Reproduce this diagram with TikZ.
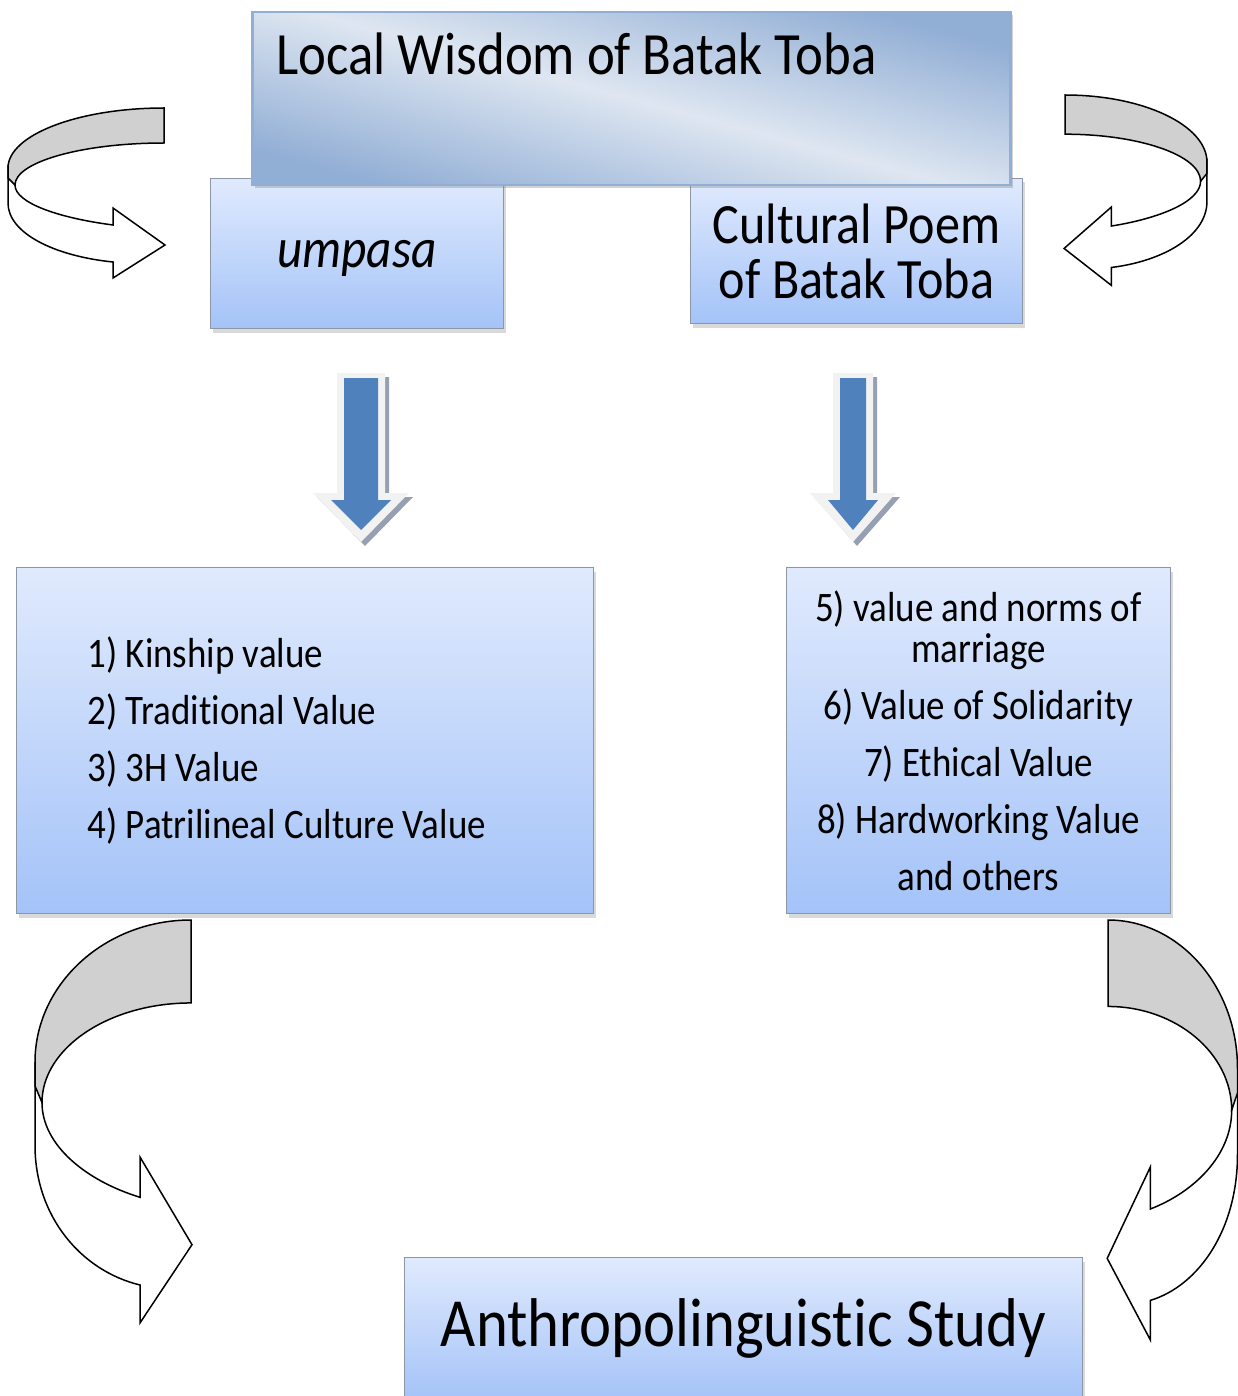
\documentclass[tikz,border=0pt]{standalone}
\usepackage{fontspec}
\setmainfont{Carlito}[FakeStretch=0.88, Ligatures=NoCommon]
\usetikzlibrary{shadows}
\definecolor{boxtop}{RGB}{224,234,253}
\definecolor{boxbottom}{RGB}{164,195,248}
\definecolor{boxline}{RGB}{140,150,165}
\definecolor{wisdomedge}{RGB}{145,174,213}
\definecolor{wisdomlight}{RGB}{222,230,241}
\definecolor{arrowblue}{RGB}{79,129,189}
\definecolor{arrowrim}{RGB}{242,242,242}
\definecolor{arrowshade}{RGB}{150,160,178}
\definecolor{bandgrey}{RGB}{208,208,208}

\tikzset{
  valuebox/.style={anchor=north west, draw=boxline, line width=1pt,
    top color=boxtop, bottom color=boxbottom, inner sep=0pt,
    drop shadow={shadow xshift=2pt, shadow yshift=-4pt, opacity=0.3}},
  band/.style={draw=black, line width=1.5pt}
}

\begin{document}
\begin{tikzpicture}[x=1pt,y=-1pt]
\useasboundingbox (0,0) rectangle (1238,1396);

% second row
\node [valuebox, minimum width=293pt, minimum height=150pt, text depth=0pt,
  font=\fontsize{56}{56}\selectfont\itshape] (umpasa) at (210,178) {umpasa};
\node [valuebox, minimum width=332pt, minimum height=145pt, align=center,
  font=\fontsize{57}{55}\selectfont] (poem) at (690,178) {Cultural Poem\\of Batak Toba};

% top box
\node [anchor=north west, draw=wisdomedge, line width=2.5pt,
  top color=wisdomedge, bottom color=wisdomedge, middle color=wisdomlight,
  shading angle=-15, minimum width=758pt, minimum height=173pt,
  drop shadow={shadow xshift=3pt, shadow yshift=-3pt, opacity=0.35}] (wisdom) at (251,11) {};
\node [anchor=base west, font=\fontsize{60}{60}\selectfont] (wisdomtitle)
  at ([shift={(22,64)}]wisdom.north west) {Local Wisdom of Batak Toba};

% value lists
\node [valuebox, minimum width=577pt, minimum height=346pt, inner xsep=71pt,
  text width=435pt, align=left, font=\fontsize{42}{57}\selectfont] (leftvals) at (16,567)
  {\spaceskip=0pt\relax 1) Kinship value\\2) Traditional Value\\3) 3H Value\\4) Patrilineal Culture Value};
\node [valuebox, minimum width=384pt, minimum height=346pt, align=center,
  font=\fontsize{42}{41}\selectfont] (rightvals) at (786,567)
  {5) value and norms of\\marriage\\[16pt]6) Value of Solidarity\\[16pt]7) Ethical Value\\[16pt]8) Hardworking Value\\[16pt]and others};

% bottom box
\node [valuebox, minimum width=678pt, minimum height=142pt,
  font=\fontsize{69}{69}\selectfont] (study) at (404,1257) {Anthropolinguistic Study};

% blue down arrows
\foreach \cx/\sw/\hw in {361/17/30, 853/13/25} {
  \fill [arrowshade, shift={(4,4)}] ({\cx-\sw-7},373) -- ({\cx+\sw+7},373) -- ({\cx+\sw+7},493)
    -- ({\cx+\hw+18},493) -- (\cx,542) -- ({\cx-\hw-18},493) -- ({\cx-\sw-7},493) -- cycle;
  \fill [arrowrim] ({\cx-\sw-7},373) -- ({\cx+\sw+7},373) -- ({\cx+\sw+7},493)
    -- ({\cx+\hw+18},493) -- (\cx,542) -- ({\cx-\hw-18},493) -- ({\cx-\sw-7},493) -- cycle;
  \fill [arrowblue] ({\cx-\sw},378) -- ({\cx+\sw},378) -- ({\cx+\sw},500)
    -- ({\cx+\hw},500) -- (\cx,530) -- ({\cx-\hw},500) -- ({\cx-\sw},500) -- cycle;
}

% curved ribbon arrows
\foreach \ox/\oy/\sx/\sy in {164/108/1/1, 1065/95/-0.91/1.12, 191/920/1/2.37, 1108/920/-0.83/2.47} {
  \begin{scope}[shift={(\ox,\oy)}, xscale=\sx, yscale=\sy]
    \draw [band, fill=white] (-156,60) -- (-156,95) .. controls (-156,125) and (-110,148) .. (-51,154)
      -- (-51,170) -- (1,137) -- (-51,100) -- (-51,117)
      .. controls (-105,110) and (-149,95) .. (-149,77) -- cycle;
    \draw [band, fill=bandgrey] (0,0) .. controls (-86,0) and (-156,27) .. (-156,60)
      -- (-156,70) -- (-149,77) .. controls (-149,54) and (-82,35) .. (0,35) -- cycle;
  \end{scope}
}
\end{tikzpicture}
\end{document}
